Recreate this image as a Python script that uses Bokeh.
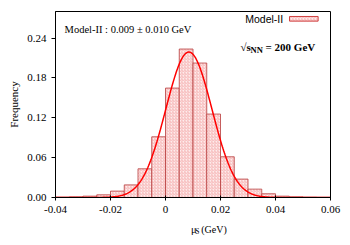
import numpy as np
from bokeh.plotting import figure
from bokeh.layouts import column
from bokeh.models import Label, FixedTicker, Range1d
from bokeh.embed import file_html
from bokeh.resources import INLINE

# ---- data ----
bin_lo = [-0.040, -0.035, -0.030, -0.025, -0.020, -0.015, -0.010, -0.005,
          0.000, 0.005, 0.010, 0.015, 0.020, 0.025, 0.030, 0.035,
          0.040, 0.045, 0.050, 0.055]
bin_width = 0.005
freq = [0.0005, 0.0010, 0.0020, 0.0040, 0.0096, 0.0190, 0.0432, 0.0914,
        0.1647, 0.2235, 0.2024, 0.1256, 0.0613, 0.0277, 0.0126, 0.0056,
        0.0020, 0.0010, 0.0005, 0.0003]

# Gaussian fit parameters
fit_mean = 0.0085
fit_sigma = 0.0084
fit_amp = 0.219

x_ticks = [-0.04, -0.02, 0.0, 0.02, 0.04, 0.06]
x_tick_labels = {-0.04: "-0.04", -0.02: "-0.02", 0.0: "0", 0.02: "0.02", 0.04: "0.04", 0.06: "0.06"}
y_ticks = [0.0, 0.06, 0.12, 0.18, 0.24]
y_tick_labels = {0.0: "0.00", 0.06: "0.06", 0.12: "0.12", 0.18: "0.18", 0.24: "0.24"}

series_name = "Model-II"
fit_text = "Model-II : 0.009 ± 0.010 GeV"

SERIF = "Liberation Serif"
SANS = "Liberation Sans"
INK = "black"

W = 350
H_MAIN = 221
H_XLAB = 24

p = figure(width=W, height=H_MAIN, output_backend="svg", toolbar_location=None,
           x_range=Range1d(-0.04, 0.06), y_range=Range1d(0, 0.28),
           min_border_left=55, min_border_right=20, min_border_top=11, min_border_bottom=24)
p.background_fill_color = "white"
p.border_fill_color = "white"
p.outline_line_color = "black"
p.outline_line_width = 1
p.xgrid.visible = False
p.ygrid.visible = False

left = np.array(bin_lo)
right = left + bin_width
hist = p.quad(left=left, right=right, bottom=0, top=freq,
              fill_color="#fdecec", line_color="#b83c3c", line_alpha=0.8, line_width=1,
              hatch_pattern="/", hatch_color="#f5aaaa", hatch_scale=3, hatch_weight=0.8)

xs = np.linspace(-0.04, 0.06, 400)
ys = fit_amp * np.exp(-0.5 * ((xs - fit_mean) / fit_sigma) ** 2)
p.line(xs, ys, line_color="#ff0000", line_width=1.5)

for ax in (p.xaxis[0], p.yaxis[0]):
    ax.axis_line_color = "black"
    ax.major_tick_line_color = "black"
    ax.minor_tick_line_color = None
    ax.major_label_text_font = SERIF
    ax.major_label_text_font_size = "11px"
    ax.major_label_text_color = INK
    ax.axis_label_text_font = SERIF
    ax.axis_label_text_font_style = "normal"
    ax.axis_label_text_font_size = "11px"
    ax.axis_label_text_color = INK

p.xaxis.ticker = FixedTicker(ticks=x_ticks)
p.xaxis.major_label_overrides = x_tick_labels
p.xaxis.major_tick_in = 2
p.xaxis.major_tick_out = 3
p.xaxis.major_label_standoff = 5

p.yaxis.ticker = FixedTicker(ticks=y_ticks)
p.yaxis.major_label_overrides = y_tick_labels
p.yaxis.major_tick_in = 0
p.yaxis.major_tick_out = 4
p.yaxis.major_label_standoff = 5
p.yaxis.axis_label = "Frequency"
p.yaxis.axis_label_standoff = 4

# annotation text
p.add_layout(Label(x=-0.0367, y=0.2526, text=fit_text, text_font=SERIF, text_color=INK,
                   text_font_size="10.5px", text_baseline="alphabetic"))

# legend (text then swatch)
p.add_layout(Label(x=0.0428, y=0.269, text=series_name, text_font=SANS, text_font_size="10.5px",
                   text_color=INK, text_align="right", text_baseline="middle"))
p.quad(left=[0.0451], right=[0.0555], bottom=[0.2655], top=[0.2725],
       fill_color="#fdecec", line_color="#d04040", line_width=1,
       hatch_pattern="/", hatch_color="#f5aaaa", hatch_scale=3, hatch_weight=0.8)

# sqrt(s_NN) text
sx, sy = 0.0273, 0.227
p.add_layout(Label(x=sx, y=sy, text="√s", text_font=SERIF, text_font_size="11px", text_color=INK,
                   text_font_style="bold", text_baseline="alphabetic"))
p.add_layout(Label(x=sx, y=sy, x_offset=10, y_offset=-3, text="NN", text_font=SERIF, text_color=INK,
                   text_font_size="8.5px", text_font_style="bold", text_baseline="alphabetic"))
p.add_layout(Label(x=sx, y=sy, x_offset=25, text="= 200 GeV", text_font=SERIF, text_color=INK,
                   text_font_size="11px", text_font_style="bold", text_baseline="alphabetic"))

# x-axis title strip (allows a subscript)
q = figure(width=W, height=H_XLAB, output_backend="svg", toolbar_location=None,
           x_range=Range1d(0, W), y_range=Range1d(0, H_XLAB),
           x_axis_location=None, y_axis_location=None,
           min_border=0, min_border_left=0, min_border_right=0, min_border_top=0, min_border_bottom=0)
q.grid.visible = False
q.outline_line_color = None
q.background_fill_color = "white"
q.border_fill_color = "white"
xl_x, xl_y = 172.5, 16.5
q.add_layout(Label(x=xl_x, y=xl_y, text="μ", text_font=SERIF, text_font_size="10.5px",
                   text_color=INK, text_baseline="alphabetic"))
q.add_layout(Label(x=xl_x + 5.5, y=xl_y - 2, text="S", text_font=SERIF, text_font_size="7.5px",
                   text_color=INK, text_baseline="alphabetic"))
q.add_layout(Label(x=xl_x + 13, y=xl_y, text="(GeV)", text_font=SERIF, text_font_size="10px",
                   text_color=INK, text_baseline="alphabetic"))

layout = column(p, q, spacing=0)
open("out.html", "w").write(file_html(layout, INLINE))
